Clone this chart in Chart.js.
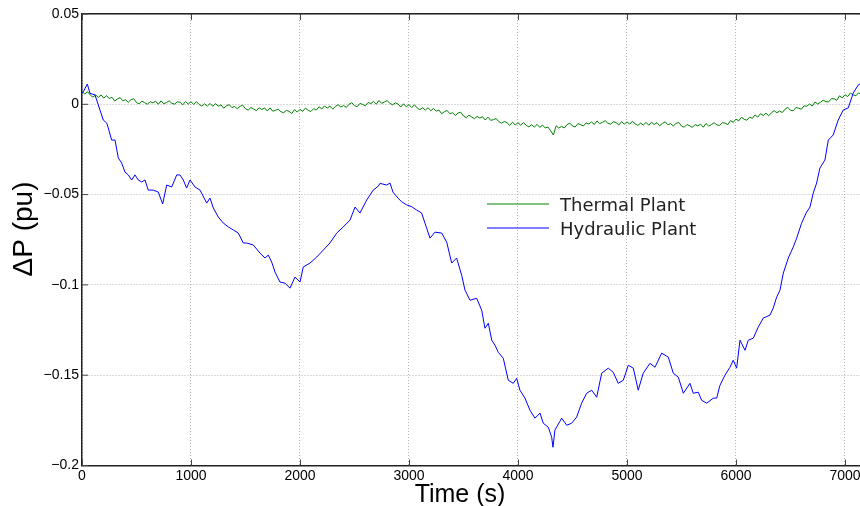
<!DOCTYPE html>
<html>
<head>
<meta charset="utf-8">
<script src="https://cdn.jsdelivr.net/npm/chart.js@4.4.1/dist/chart.umd.min.js"></script>
<style>
  html, body { margin: 0; padding: 0; background: #fff; overflow: hidden; }
  #frame { width: 860px; height: 506px; overflow: hidden; position: relative; }
  #chart { position: absolute; left: 0; top: 0; }
</style>
</head>
<body>
<div id="frame"><canvas id="chart" width="878" height="506"></canvas></div>
<script>
// series names and axis titles
const seriesNames = ["Thermal Plant", "Hydraulic Plant"];
const xTitle = "Time (s)";
const yTitle = "\u0394P (pu)";

// tick values
const timeTicks = [0, 1000, 2000, 3000, 4000, 5000, 6000, 7000];
const powerTicks = [-0.2, -0.15, -0.1, -0.05, 0, 0.05];

// thermal plant, sampled every 25 s from t = 0
const thermalStep = 25;
const thermalPower = [
  0.0073, 0.0056, 0.0070, 0.0052, 0.0040, 0.0052, 0.0038, 0.0052,
  0.0034, 0.0048, 0.0032, 0.0039, 0.0018, 0.0030, 0.0037, 0.0020,
  0.0025, 0.0011, 0.0026, 0.0031, 0.0010, 0.0003, 0.0017, 0.0009,
  0.0000, 0.0015, 0.0008, 0.0017, 0.0000, 0.0019, 0.0003, 0.0010,
  0.0019, 0.0005, 0.0001, 0.0014, 0.0011, -0.0003, 0.0016, 0.0001,
  0.0014, -0.0001, 0.0015, -0.0001, -0.0010, 0.0003, -0.0010, 0.0005,
  -0.0011, 0.0004, -0.0011, -0.0003, -0.0022, -0.0009, -0.0002, -0.0018,
  -0.0012, -0.0025, -0.0011, -0.0005, -0.0025, -0.0032, -0.0018, -0.0026,
  -0.0035, -0.0020, -0.0029, -0.0020, -0.0037, -0.0020, -0.0038, -0.0033,
  -0.0027, -0.0041, -0.0047, -0.0034, -0.0039, -0.0051, -0.0030, -0.0043,
  -0.0028, -0.0039, -0.0021, -0.0033, -0.0040, -0.0024, -0.0032, -0.0014,
  -0.0026, -0.0009, -0.0021, -0.0010, -0.0027, -0.0012, -0.0002, -0.0015,
  -0.0007, -0.0017, 0.0000, 0.0009, -0.0008, -0.0013, 0.0005, -0.0001,
  -0.0008, 0.0010, 0.0004, 0.0016, 0.0001, 0.0021, 0.0005, 0.0013,
  0.0021, 0.0005, -0.0003, 0.0008, 0.0001, -0.0015, 0.0003, -0.0014,
  -0.0002, -0.0018, -0.0003, -0.0020, -0.0030, -0.0019, -0.0032, -0.0019,
  -0.0036, -0.0023, -0.0038, -0.0032, -0.0052, -0.0041, -0.0034, -0.0052,
  -0.0047, -0.0062, -0.0048, -0.0044, -0.0065, -0.0074, -0.0060, -0.0070,
  -0.0080, -0.0067, -0.0076, -0.0069, -0.0087, -0.0071, -0.0089, -0.0085,
  -0.0079, -0.0096, -0.0105, -0.0095, -0.0102, -0.0117, -0.0099, -0.0114,
  -0.0102, -0.0116, -0.0101, -0.0116, -0.0125, -0.0113, -0.0126, -0.0111,
  -0.0128, -0.0115, -0.0131, -0.0126, -0.0147, -0.0170, -0.0119, -0.0132,
  -0.0122, -0.0131, -0.0113, -0.0104, -0.0120, -0.0125, -0.0107, -0.0113,
  -0.0120, -0.0103, -0.0109, -0.0097, -0.0112, -0.0092, -0.0107, -0.0100,
  -0.0091, -0.0105, -0.0110, -0.0097, -0.0101, -0.0115, -0.0096, -0.0110,
  -0.0097, -0.0110, -0.0094, -0.0108, -0.0117, -0.0104, -0.0115, -0.0100,
  -0.0116, -0.0099, -0.0112, -0.0102, -0.0119, -0.0106, -0.0097, -0.0113,
  -0.0107, -0.0120, -0.0106, -0.0100, -0.0120, -0.0127, -0.0112, -0.0119,
  -0.0128, -0.0112, -0.0120, -0.0110, -0.0127, -0.0106, -0.0121, -0.0112,
  -0.0102, -0.0114, -0.0117, -0.0102, -0.0104, -0.0113, -0.0090, -0.0100,
  -0.0082, -0.0092, -0.0072, -0.0083, -0.0088, -0.0071, -0.0078, -0.0059,
  -0.0071, -0.0052, -0.0062, -0.0049, -0.0064, -0.0047, -0.0035, -0.0047,
  -0.0037, -0.0046, -0.0027, -0.0017, -0.0033, -0.0036, -0.0018, -0.0022,
  -0.0027, -0.0008, -0.0011, 0.0002, -0.0010, 0.0013, 0.0001, 0.0011,
  0.0023, 0.0014, 0.0013, 0.0031, 0.0031, 0.0022, 0.0047, 0.0035,
  0.0053, 0.0043, 0.0063, 0.0052, 0.0047, 0.0063, 0.0055
];

// hydraulic plant (time in s)
const hydraulicTime = [
  0, 12, 49, 73, 119, 150, 165, 195, 227, 241,
  272, 303, 333, 364, 394, 425, 456, 486, 516, 548,
  578, 608, 654, 700, 740, 777, 823, 869, 899, 929,
  960, 991, 1037, 1083, 1144, 1174, 1205, 1250, 1296, 1342,
  1388, 1434, 1480, 1511, 1572, 1633, 1679, 1709, 1740, 1771,
  1816, 1862, 1908, 1954, 2000, 2030, 2092, 2153, 2214, 2275,
  2337, 2397, 2459, 2505, 2550, 2612, 2672, 2718, 2734, 2795,
  2826, 2853, 2899, 2933, 2979, 3025, 3071, 3116, 3162, 3193,
  3238, 3300, 3346, 3392, 3437, 3483, 3514, 3560, 3621, 3667,
  3697, 3728, 3759, 3789, 3819, 3865, 3911, 3957, 3988, 4018,
  4064, 4110, 4156, 4202, 4232, 4278, 4309, 4321, 4339, 4401,
  4447, 4492, 4538, 4584, 4630, 4676, 4722, 4768, 4828, 4874,
  4920, 4966, 5012, 5058, 5103, 5149, 5211, 5257, 5318, 5379,
  5425, 5471, 5517, 5578, 5608, 5654, 5685, 5731, 5792, 5823,
  5853, 5899, 5945, 5975, 6006, 6037, 6083, 6113, 6159, 6204,
  6250, 6312, 6342, 6373, 6404, 6434, 6480, 6525, 6557, 6602,
  6648, 6679, 6709, 6740, 6770, 6816, 6847, 6892, 6938, 6984,
  7030, 7076, 7122, 7160
];
const hydraulicPower = [
  0.006, 0.0070, 0.0112, 0.0061, 0.0052, -0.0004, -0.0032, -0.0087, -0.0104, -0.0131,
  -0.0198, -0.0198, -0.0297, -0.0325, -0.0375, -0.0391, -0.0419, -0.0391, -0.0419, -0.0430,
  -0.0419, -0.0475, -0.0475, -0.0486, -0.0552, -0.0447, -0.0458, -0.0391, -0.0391, -0.0419,
  -0.0464, -0.0419, -0.0458, -0.0475, -0.0547, -0.0519, -0.0574, -0.0624, -0.0657, -0.0679,
  -0.0696, -0.0713, -0.0768, -0.0768, -0.0779, -0.0824, -0.0851, -0.0835, -0.0873, -0.0929,
  -0.0984, -0.0990, -0.1018, -0.0957, -0.0984, -0.0901, -0.0879, -0.0846, -0.0807, -0.0768,
  -0.0713, -0.0679, -0.0641, -0.0569, -0.0602, -0.0530, -0.0475, -0.0453, -0.0438, -0.0447,
  -0.0436, -0.0486, -0.0519, -0.0540, -0.0557, -0.0567, -0.0586, -0.0602, -0.0686, -0.0741,
  -0.0708, -0.0713, -0.0763, -0.0879, -0.0851, -0.0946, -0.1029, -0.1085, -0.1074, -0.1140,
  -0.1240, -0.1212, -0.1306, -0.1334, -0.1373, -0.1406, -0.1528, -0.1545, -0.1517, -0.1583,
  -0.1627, -0.1694, -0.1738, -0.1710, -0.1766, -0.1788, -0.1843, -0.1899, -0.1804, -0.1738,
  -0.1777, -0.1766, -0.1732, -0.1655, -0.1600, -0.1583, -0.1622, -0.1489, -0.1461, -0.1484,
  -0.1545, -0.1528, -0.1445, -0.1461, -0.1583, -0.1489, -0.1434, -0.1456, -0.1378, -0.1400,
  -0.1489, -0.1511, -0.1600, -0.1545, -0.1600, -0.1594, -0.1639, -0.1655, -0.1627, -0.1627,
  -0.1556, -0.1500, -0.1456, -0.1417, -0.1461, -0.1306, -0.1362, -0.1306, -0.1295, -0.1234,
  -0.1184, -0.1167, -0.1128, -0.1068, -0.1029, -0.0935, -0.0851, -0.0791, -0.0741, -0.0658,
  -0.0597, -0.0569, -0.0491, -0.0436, -0.0353, -0.0309, -0.0198, -0.0170, -0.0087, -0.0032,
  -0.0020, 0.0063, 0.0107, 0.0120
];

// axis range (right end is cut off by the frame, like the original)
const timeMax = 7303;
const powerMin = -0.2;
const powerMax = 0.05;

const fmtTick = (v) => {
  const s = String(Number(v.toFixed(2)));
  return s.replace("-", "\u2212");
};

// matlab-style inward tick marks
const innerTicks = {
  id: "innerTicks",
  afterDraw(chart) {
    const { ctx, chartArea, scales } = chart;
    ctx.save();
    ctx.strokeStyle = "#444";
    ctx.lineWidth = 1;
    ctx.beginPath();
    scales.x.ticks.forEach((t) => {
      const px = Math.round(scales.x.getPixelForValue(t.value)) + 0.5;
      ctx.moveTo(px, chartArea.bottom);
      ctx.lineTo(px, chartArea.bottom - 6);
      ctx.moveTo(px, chartArea.top);
      ctx.lineTo(px, chartArea.top + 6);
    });
    scales.y.ticks.forEach((t) => {
      const py = scales.y.getPixelForValue(t.value);
      ctx.moveTo(chartArea.left, py);
      ctx.lineTo(chartArea.left + 6, py);
    });
    ctx.stroke();
    ctx.restore();
  },
};

// axis titles, placed where the original has them
const axisTitles = {
  id: "axisTitles",
  afterDraw(chart, args, opts) {
    const { ctx } = chart;
    ctx.save();
    ctx.fillStyle = "#000";
    ctx.textAlign = "center";
    ctx.textBaseline = "alphabetic";
    ctx.font = opts.xFont;
    ctx.fillText(xTitle, opts.xAt[0], opts.xAt[1]);
    ctx.translate(opts.yAt[0], opts.yAt[1]);
    ctx.rotate(-Math.PI / 2);
    ctx.font = opts.yFont;
    ctx.fillText(yTitle, 0, 0);
    ctx.restore();
  },
};

// legend drawn inside the axes, no box
const innerLegend = {
  id: "innerLegend",
  afterDatasetsDraw(chart, args, opts) {
    const { ctx } = chart;
    ctx.save();
    ctx.font = opts.font;
    ctx.textBaseline = "middle";
    chart.data.datasets.forEach((ds, i) => {
      const y = opts.y + i * opts.rowHeight;
      ctx.strokeStyle = ds.borderColor;
      ctx.lineWidth = 1;
      ctx.beginPath();
      ctx.moveTo(opts.x, y);
      ctx.lineTo(opts.x + opts.lineLength, y);
      ctx.stroke();
      ctx.fillStyle = "#222";
      ctx.fillText(ds.label, opts.x + opts.lineLength + opts.gap, y + 2);
    });
    ctx.restore();
  },
};

const gridStyle = { color: "#b4b4b4", lineWidth: 1, drawTicks: false };
const tickFont = { family: "Liberation Sans", size: 14 };

new Chart(document.getElementById("chart"), {
  type: "line",
  data: {
    datasets: [
      {
        label: seriesNames[0],
        data: thermalPower.map((v, i) => ({ x: i * thermalStep, y: v })),
        borderColor: "#008000",
        borderWidth: 1,
        pointRadius: 0,
        tension: 0,
        order: 1,
      },
      {
        label: seriesNames[1],
        data: hydraulicPower.map((v, i) => ({ x: hydraulicTime[i], y: v })),
        borderColor: "#0000ff",
        borderWidth: 1,
        pointRadius: 0,
        tension: 0,
        order: 0,
      },
    ],
  },
  plugins: [innerTicks, innerLegend, axisTitles],
  options: {
    responsive: false,
    animation: false,
    events: [],
    layout: { padding: 0 },
    plugins: {
      legend: { display: false },
      tooltip: { enabled: false },
      innerLegend: {
        x: 487,
        y: 204,
        rowHeight: 24,
        lineLength: 62,
        gap: 11,
        font: "18px 'DejaVu Sans'",
      },
      axisTitles: {
        xFont: "25px 'Liberation Sans'",
        xAt: [460, 502],
        yFont: "28px 'Liberation Sans'",
        yAt: [32, 229],
      },
    },
    scales: {
      x: {
        type: "linear",
        position: "bottom",
        min: 0,
        max: timeMax,
        afterFit: (s) => { s.height = 40.5; },
        afterBuildTicks: (s) => { s.ticks = timeTicks.map((v) => ({ value: v })); },
        ticks: {
          autoSkip: false,
          maxRotation: 0,
          padding: 2,
          color: "#000",
          font: tickFont,
          callback: (v) => String(v),
        },
        grid: gridStyle,
        border: { display: true, color: "#222", width: 1.5, dash: [1, 2] },
      },
      x2: {
        type: "linear",
        position: "top",
        min: 0,
        max: timeMax,
        afterFit: (s) => { s.height = 14; },
        ticks: { display: false },
        grid: { display: false, drawTicks: false },
        border: { display: true, color: "#222", width: 1.5 },
      },
      y: {
        type: "linear",
        position: "left",
        min: powerMin,
        max: powerMax,
        afterFit: (s) => { s.width = 82; },
        afterBuildTicks: (s) => { s.ticks = powerTicks.map((v) => ({ value: v })); },
        ticks: {
          padding: 3,
          color: "#000",
          font: tickFont,
          callback: fmtTick,
        },
        grid: gridStyle,
        border: { display: true, color: "#222", width: 1.5, dash: [1, 2] },
      },
    },
  },
});
</script>
</body>
</html>
